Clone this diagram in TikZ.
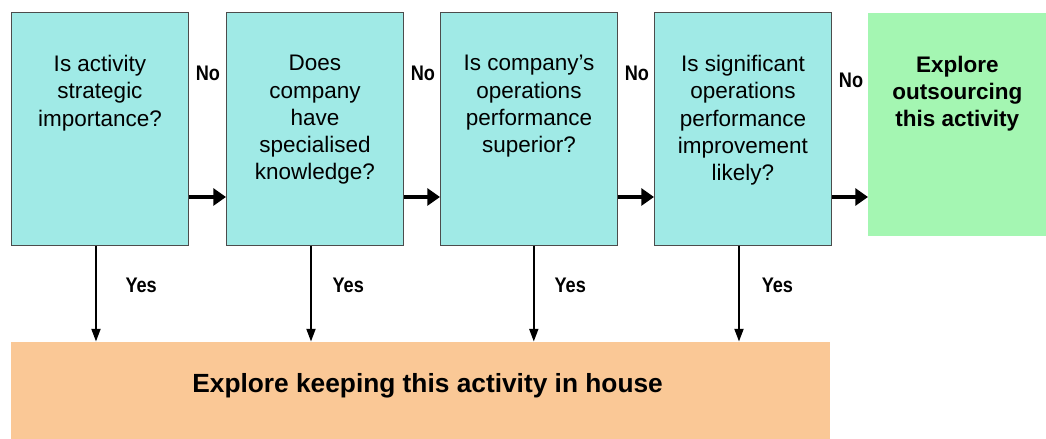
\documentclass[tikz,border=0pt]{standalone}
\usepackage{fontspec}
\setmainfont{Liberation Sans}
\newfontfamily\narrowfont[FakeStretch=0.86]{Liberation Sans}
\usetikzlibrary{arrows.meta}
\definecolor{qcyan}{RGB}{160,234,230}
\definecolor{qgreen}{RGB}{164,246,178}
\definecolor{qorange}{RGB}{250,200,150}
\begin{document}
\begin{tikzpicture}[
    box/.style={draw=black!70, line width=.7pt, fill=qcyan, inner sep=0pt,
        minimum width=4.425cm, minimum height=5.825cm, anchor=south west},
    boxtext/.style={anchor=north, inner sep=0pt, align=center, yshift=-1.075cm,
        font=\fontsize{16}{19.4}\selectfont},
    outbox/.style={fill=qgreen, inner sep=0pt, anchor=south west,
        minimum width=4.45cm, minimum height=5.575cm},
    keepbox/.style={fill=qorange, inner sep=0pt, anchor=south west,
        minimum width=20.475cm, minimum height=2.425cm},
    answer/.style={font=\narrowfont\bfseries\fontsize{15}{18}\selectfont, inner sep=0pt},
    noarrow/.style={line width=2.8pt, -{Triangle[length=9pt,width=12pt]}},
    yesarrow/.style={line width=1.1pt, -{Triangle[length=9pt,width=6.5pt]}},
]
    \useasboundingbox (0,0) rectangle (26.15,10.975);
    % Fragen
    \node[box, label={[boxtext]north:{Is activity\\strategic\\importance?}}] (q1) at (0.275,4.825) {};
    \node[box, label={[boxtext]north:{Does\\company\\have\\specialised\\knowledge?}}] (q2) at (5.65,4.825) {};
    \node[box, label={[boxtext]north:{Is company’s\\operations\\performance\\superior?}}] (q3) at (11,4.825) {};
    \node[box, label={[boxtext]north:{Is significant\\operations\\performance\\improvement\\likely?}}] (q4) at (16.35,4.825) {};
    % Ergebnisse
    \node[outbox, label={[boxtext, font=\bfseries\fontsize{16}{19.4}\selectfont]north:{Explore\\outsourcing\\this activity}}] (out) at (21.7,5.075) {};
    \node[keepbox, label={[xshift=.17cm, yshift=.1cm, font=\bfseries\fontsize{18.7}{22}\selectfont]center:{Explore keeping this activity in house}}] (keep) at (0.275,0) {};
    % Nein
    \foreach \a/\b in {q1/q2, q2/q3, q3/q4}
        \draw[noarrow] ([yshift=1.225cm]\a.south east) -- ([yshift=1.225cm]\b.south west);
    \draw[noarrow] ([yshift=1.225cm]q4.south east) -- ([yshift=1.225cm]q4.south east -| out.west);
    \node[answer] (n1) at ([xshift=.475cm,yshift=-1.525cm]q1.north east) {No};
    \node[answer] (n2) at ([xshift=.475cm,yshift=-1.525cm]q2.north east) {No};
    \node[answer] (n3) at ([xshift=.475cm,yshift=-1.525cm]q3.north east) {No};
    \node[answer] (n4) at ([xshift=.475cm,yshift=-1.7cm]q4.north east) {No};
    % Ja
    \foreach \q/\s/\d in {q1/-.1/.72, q2/-.1/.52, q3/.12/.5, q4/-.1/.55}
        \draw[yesarrow] ([xshift=\s cm]\q.south) -- ([xshift=\s cm]\q.south |- keep.north)
            node[answer, pos=.41, right=\d cm] (y\q) {Yes};
\end{tikzpicture}
\end{document}
